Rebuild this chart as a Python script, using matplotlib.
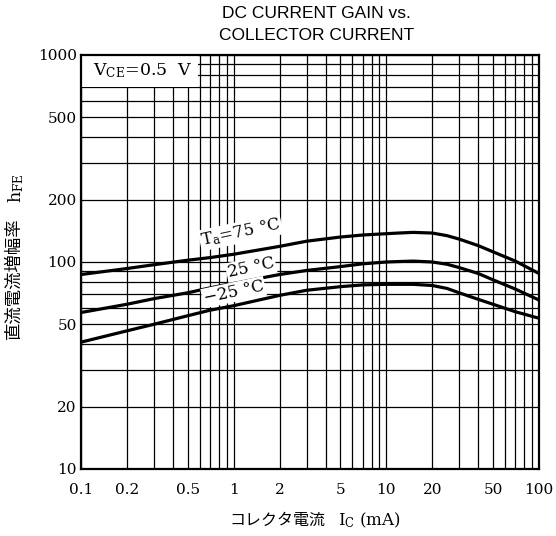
import numpy as np
import matplotlib
matplotlib.use("Agg")
import matplotlib.pyplot as plt
from matplotlib.ticker import FixedLocator, FixedFormatter, LogLocator, NullFormatter
from matplotlib.patches import Rectangle

plt.rcParams['mathtext.fontset'] = 'dejavuserif'

# collector current (mA)
ic = [0.1, 0.2, 0.3, 0.5, 0.7, 1, 2, 3, 5, 7, 10, 12, 15, 20, 25, 30, 40, 50, 70, 100]

# DC current gain hFE at Ta = 75, 25, -25 degC (VCE = 0.5 V)
hfe_75 = [87, 93, 97, 102, 105, 109, 119, 126, 132, 135, 137, 138, 139, 138, 134, 129, 120, 112, 101, 88]
hfe_25 = [57, 62.5, 66.5, 71, 75, 79, 87, 91, 95, 98, 100, 100.5, 101, 100, 97.5, 94, 88, 82, 74, 65.5]
hfe_m25 = [41, 46.5, 50, 55, 58.5, 61.5, 69, 73, 76, 77.5, 78, 78, 78, 77, 74.5, 71, 66, 62.5, 57.5, 53.5]

xticks = [0.1, 0.2, 0.5, 1, 2, 5, 10, 20, 50, 100]
xtick_labels = ['0.1', '0.2', '0.5', '1', '2', '5', '10', '20', '50', '100']
yticks = [10, 20, 50, 100, 200, 500, 1000]
ytick_labels = ['10', '20', '50', '100', '200', '500', '1000']

fig = plt.figure(figsize=(5.56, 5.36), dpi=100)
ax = fig.add_axes([0.1457, 0.125, 0.8237, 0.7724])
ax.set_xscale('log')
ax.set_yscale('log')
ax.set_xlim(0.1, 100)
ax.set_ylim(10, 1000)

# grid on every decade subdivision
for axis in (ax.xaxis, ax.yaxis):
    axis.set_minor_locator(LogLocator(base=10, subs=range(2, 10)))
    axis.set_minor_formatter(NullFormatter())
ax.xaxis.set_major_locator(FixedLocator(xticks))
ax.xaxis.set_major_formatter(FixedFormatter(xtick_labels))
ax.yaxis.set_major_locator(FixedLocator(yticks))
ax.yaxis.set_major_formatter(FixedFormatter(ytick_labels))
ax.grid(which='both', color='black', lw=0.9)
ax.tick_params(which='both', length=0)
ax.tick_params(axis='x', pad=10)
ax.tick_params(axis='y', pad=3)
for lab in ax.get_xticklabels() + ax.get_yticklabels():
    lab.set_fontfamily('DejaVu Serif')
    lab.set_fontsize(11)
for sp in ax.spines.values():
    sp.set_linewidth(1.6)

for h in (hfe_75, hfe_25, hfe_m25):
    ax.plot(ic, h, color='black', lw=2.3, zorder=3, solid_capstyle='butt',
            solid_joinstyle='round')

# condition box in the upper left corner
ax.add_patch(Rectangle((0, 0.9227), 0.2555, 0.0773, transform=ax.transAxes,
                       facecolor='white', edgecolor='none', zorder=2))
ax.text(0.026, 0.962, r'V$_{\rm CE}$=0.5  V', transform=ax.transAxes,
        fontsize=12.5, family='DejaVu Serif', va='center', ha='left', zorder=4)

# curve labels
lbl = dict(fontsize=12, family='DejaVu Serif', ha='center', va='center',
           rotation=12, zorder=4,
           bbox=dict(facecolor='white', edgecolor='none', pad=1.0))
ax.text(1.11, 139, r'T$_{\rm a}$=75 °C', **lbl)
ax.text(1.30, 93.5, '25 °C', **lbl)
ax.text(1.00, 71.5, '−25 °C', **lbl)

# titles and axis labels
title_font = ['Liberation Sans Narrow', 'Liberation Sans']
fig.text(0.569, 1 - 14 / 536, 'DC CURRENT GAIN vs.', ha='center', va='center',
         fontsize=12.5, family=title_font)
fig.text(0.569, 1 - 35 / 536, 'COLLECTOR CURRENT', ha='center', va='center',
         fontsize=12.5, family=title_font)

fig.text(277 / 556, 1 - 520 / 536, 'コレクタ電流', ha='center', va='center',
         fontsize=11.5, family=['Noto Sans CJK JP'])
fig.text(338 / 556, 1 - 520 / 536, r'I$_{\rm C}$ (mA)', ha='left', va='center',
         fontsize=12, family='DejaVu Serif')

fig.text(14 / 556, 1 - 278 / 536, '直流電流増幅率', ha='center', va='center',
         rotation=90, fontsize=12.5, family=['Noto Sans CJK JP'])
fig.text(16 / 556, 1 - 188 / 536, r'h$_{\rm FE}$', ha='center', va='center',
         rotation=90, fontsize=12.5, family='DejaVu Serif')

fig.savefig('out.png', dpi=100)
